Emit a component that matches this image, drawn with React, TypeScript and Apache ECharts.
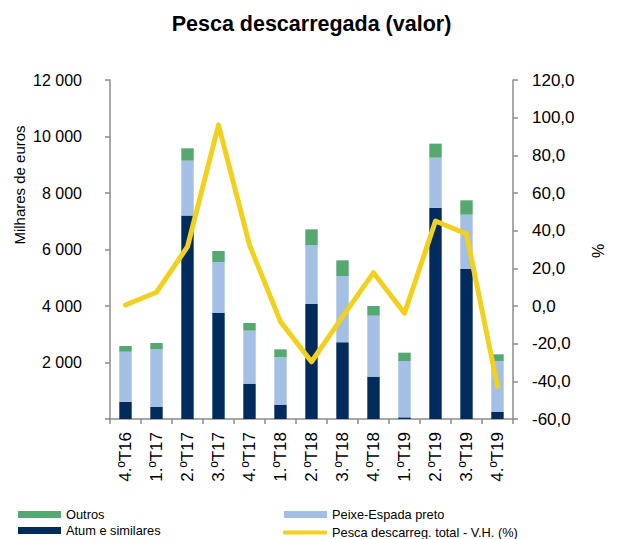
import React, { useEffect, useRef } from "react";
import * as echarts from "echarts";

const categories = ["4.ºT16", "1.ºT17", "2.ºT17", "3.ºT17", "4.ºT17", "1.ºT18", "2.ºT18", "3.ºT18", "4.ºT18", "1.ºT19", "2.ºT19", "3.ºT19", "4.ºT19"];
const atum = [614, 425, 7200, 3752, 1251, 507, 4083, 2714, 1499, 59, 7481, 5310, 260];
const peixeEspada = [1770, 2053, 1945, 1806, 1876, 1676, 2077, 2348, 2159, 1994, 1770, 1923, 1793];
const outros = [200, 212, 437, 389, 271, 283, 554, 555, 342, 295, 496, 508, 236];
const variacao = [0.5, 7.3, 31.5, 96.1, 32.4, -8.3, -29.6, -5.8, 17.7, -3.9, 45.1, 38.2, -42.8];

const FONT = "'Liberation Sans', Arial, sans-serif";
const AXIS_COLOR = "#8c8c8c";
const LEGEND_TEXT = { fontFamily: FONT, fontSize: 12.8, color: "#000" };

export default function App() {
  const ref = useRef<HTMLDivElement>(null);
  useEffect(() => {
    if (!ref.current) return;
    const chart = echarts.init(ref.current, undefined, { renderer: "svg" });
    chart.setOption({
      animation: false,
      backgroundColor: "#ffffff",
      title: {
        text: "Pesca descarregada (valor)",
        left: "center",
        top: 8,
        textStyle: { fontFamily: FONT, fontSize: 21.5, fontWeight: "bold", color: "#000" },
      },
      grid: { left: 110, right: 110, top: 80, bottom: 120 },
      legend: [
        {
          data: [
            { name: "Outros", icon: "rect" },
            { name: "Atum e similares", icon: "rect" },
          ],
          orient: "vertical",
          left: 13,
          top: 503,
          height: 40,
          itemWidth: 43,
          itemHeight: 7,
          itemGap: 3,
          textStyle: LEGEND_TEXT,
        },
        {
          data: [{ name: "Peixe-Espada preto", icon: "rect" }],
          orient: "vertical",
          left: 279,
          top: 503,
          itemWidth: 43,
          itemHeight: 7,
          textStyle: LEGEND_TEXT,
        },
        {
          data: [{ name: "Pesca descarreg. total - V.H. (%)", icon: "roundRect" }],
          orient: "vertical",
          left: 278,
          top: 521,
          itemWidth: 44,
          itemHeight: 4,
          textStyle: LEGEND_TEXT,
        },
      ],
      xAxis: {
        type: "category",
        data: categories,
        boundaryGap: true,
        axisLine: { lineStyle: { color: AXIS_COLOR, width: 1.5 } },
        axisTick: { show: true, alignWithLabel: false, interval: 0, length: 5, lineStyle: { color: AXIS_COLOR, width: 1.5 } },
        axisLabel: { interval: 0, rotate: 90, margin: 13, fontFamily: FONT, fontSize: 17, color: "#000" },
      },
      yAxis: [
        {
          type: "value",
          min: 0,
          max: 12000,
          interval: 2000,
          position: "left",
          splitLine: { show: false },
          axisLine: { show: true, lineStyle: { color: AXIS_COLOR, width: 1.5 } },
          axisTick: { show: true, length: 5, lineStyle: { color: AXIS_COLOR, width: 1.5 } },
          axisLabel: {
            margin: 28,
            fontFamily: FONT,
            fontSize: 16,
            color: "#000",
            formatter: (v: number) => (v === 0 ? "" : String(v).replace(/\B(?=(\d{3})+(?!\d))/g, " ")),
          },
        },
        {
          type: "value",
          min: -60,
          max: 120,
          interval: 20,
          position: "right",
          splitLine: { show: false },
          axisLine: { show: true, lineStyle: { color: AXIS_COLOR, width: 1.5 } },
          axisTick: { show: true, length: 5, lineStyle: { color: AXIS_COLOR, width: 1.5 } },
          axisLabel: {
            margin: 19,
            fontFamily: FONT,
            fontSize: 17,
            color: "#000",
            formatter: (v: number) => v.toFixed(1).replace(".", ","),
          },
        },
      ],
      graphic: [
        {
          type: "text",
          x: 19,
          y: 185,
          rotation: Math.PI / 2,
          style: {
            text: "Milhares de euros",
            fontFamily: FONT,
            fontSize: 15,
            fill: "#000",
            align: "center",
            verticalAlign: "middle",
          },
        },
        {
          type: "text",
          x: 598,
          y: 251,
          rotation: Math.PI / 2,
          style: {
            text: "%",
            fontFamily: FONT,
            fontSize: 16,
            fill: "#000",
            align: "center",
            verticalAlign: "middle",
          },
        },
      ],
      series: [
        {
          name: "Atum e similares",
          type: "bar",
          stack: "total",
          barWidth: "40%",
          data: atum,
          itemStyle: { color: "#002B5C" },
        },
        {
          name: "Peixe-Espada preto",
          type: "bar",
          stack: "total",
          barWidth: "40%",
          data: peixeEspada,
          itemStyle: { color: "#A3BFE3" },
        },
        {
          name: "Outros",
          type: "bar",
          stack: "total",
          barWidth: "40%",
          data: outros,
          itemStyle: { color: "#55A86F" },
        },
        {
          name: "Pesca descarreg. total - V.H. (%)",
          type: "line",
          yAxisIndex: 1,
          data: variacao,
          symbol: "none",
          lineStyle: { color: "#F2D11E", width: 5, cap: "round", join: "round" },
          itemStyle: { color: "#F2D11E" },
          z: 5,
        },
      ],
    });
    return () => chart.dispose();
  }, []);
  return <div ref={ref} style={{ position: "fixed", left: 0, top: 0, width: 623, height: 539 }} />;
}
